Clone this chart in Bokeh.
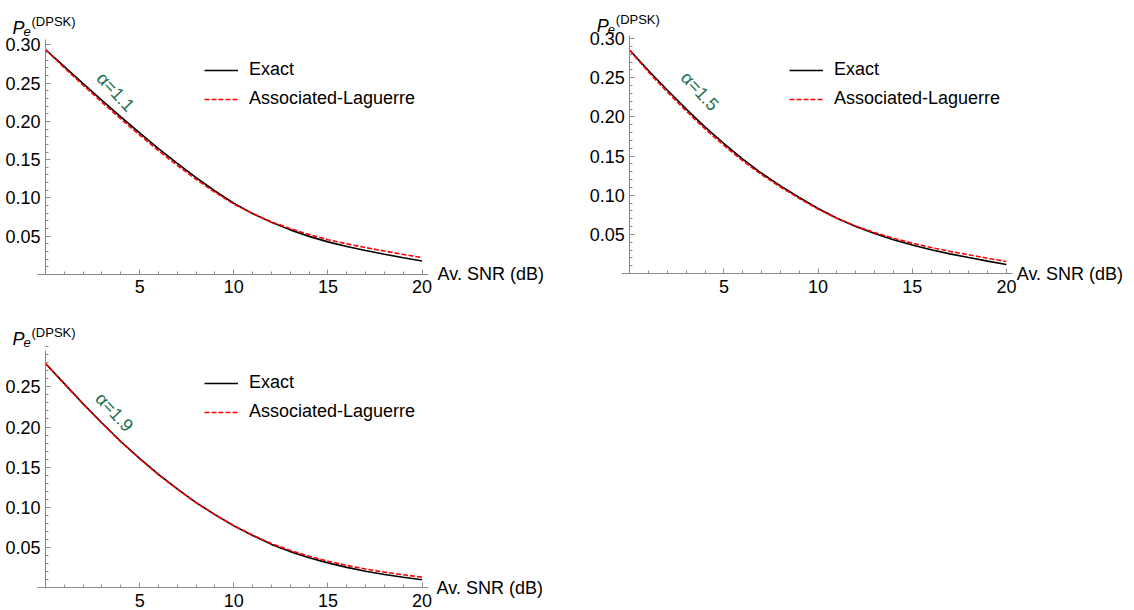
from bokeh.plotting import figure
from bokeh.models import (FixedTicker, NumeralTickFormatter, Label, Legend,
                          LegendItem, Range1d)
from bokeh.layouts import column, row
from bokeh.embed import file_html
from bokeh.resources import INLINE

# ---------------- data ----------------
snr_db = [0, 1, 2, 3, 4, 5, 6, 7, 8, 9, 10, 11, 12, 13, 14, 15, 16, 17, 18, 19, 20]

exact_a11 = [0.294, 0.2715, 0.2495, 0.2275, 0.206, 0.185, 0.1645, 0.145, 0.1265, 0.109, 0.093,
             0.0795, 0.068, 0.0582, 0.0497, 0.0425, 0.0365, 0.0312, 0.0264, 0.0218, 0.0175]
lag_a11 = [0.294, 0.270, 0.2473, 0.225, 0.2033, 0.1822, 0.1617, 0.1424, 0.1243, 0.1073, 0.092,
           0.0795, 0.0688, 0.0598, 0.052, 0.0454, 0.0399, 0.035, 0.0305, 0.0261, 0.0219]

exact_a15 = [0.285, 0.259, 0.234, 0.210, 0.187, 0.166, 0.146, 0.128, 0.112, 0.097, 0.083,
             0.0705, 0.060, 0.051, 0.0432, 0.0364, 0.0304, 0.0251, 0.0204, 0.0158, 0.0115]
lag_a15 = [0.285, 0.257, 0.2315, 0.2075, 0.1845, 0.1635, 0.1438, 0.1262, 0.1105, 0.0958, 0.0822,
           0.0705, 0.0606, 0.0522, 0.045, 0.0387, 0.0332, 0.0283, 0.0239, 0.0195, 0.0153]

exact_a19 = [0.279, 0.254, 0.229, 0.205, 0.182, 0.161, 0.141, 0.123, 0.106, 0.091, 0.077,
             0.065, 0.054, 0.045, 0.0375, 0.031, 0.0254, 0.0206, 0.0166, 0.0131, 0.0100]
lag_a19 = [0.279, 0.2535, 0.2285, 0.2045, 0.1815, 0.1605, 0.1405, 0.1226, 0.1058, 0.0909, 0.0772,
           0.0655, 0.055, 0.0465, 0.0393, 0.0331, 0.0278, 0.0233, 0.0195, 0.0162, 0.0132]

x_ticks = [5, 10, 15, 20]
y_ticks_top = [0.05, 0.10, 0.15, 0.20, 0.25, 0.30]
y_ticks_bottom = [0.05, 0.10, 0.15, 0.20, 0.25]
series_labels = ["Exact", "Associated-Laguerre"]
alpha_labels = ["\u03b1=1.1", "\u03b1=1.5", "\u03b1=1.9"]
x_title = "Av. SNR (dB)"

FONT = "Liberation Sans"
AXIS_GRAY = "#8c8c8c"
GREEN = "#1a7050"
PX_PER_DB = 18.83


def make_panel(ex, lag, alpha_txt, w, h, ox, oy, py, ytop, yticks,
               leg_loc, alpha_xy, snr_x, pe_px):
    """ox, oy: pixel position of the origin (0 dB, 0) inside the figure (oy from top);
    py: pixels per unit of P_e; ytop: top end of the y axis."""
    x_range = Range1d(-ox / PX_PER_DB, (w - ox) / PX_PER_DB)
    y_range = Range1d(-(h - oy) / py, oy / py)
    p = figure(width=w, height=h, x_range=x_range, y_range=y_range,
               output_backend="svg", toolbar_location=None, min_border=0)
    p.outline_line_color = None
    p.grid.visible = False
    p.background_fill_color = "white"
    p.border_fill_color = "white"

    for ax in (p.xaxis[0], p.yaxis[0]):
        ax.fixed_location = 0
        ax.axis_line_color = AXIS_GRAY
        ax.major_tick_line_color = AXIS_GRAY
        ax.minor_tick_line_color = AXIS_GRAY
        ax.major_tick_in = 5
        ax.major_tick_out = 0
        ax.minor_tick_in = 3
        ax.minor_tick_out = 0
        ax.major_label_text_font = FONT
        ax.major_label_text_font_size = "18px"
        ax.major_label_text_color = "black"

    p.xaxis[0].ticker = FixedTicker(ticks=x_ticks, minor_ticks=list(range(1, 21)))
    p.xaxis[0].bounds = (-0.43, 20.35)
    p.xaxis[0].major_label_standoff = 6
    p.yaxis[0].ticker = FixedTicker(ticks=yticks,
                                    minor_ticks=[k / 100 for k in range(1, 31)])
    p.yaxis[0].bounds = (0, ytop)
    p.yaxis[0].formatter = NumeralTickFormatter(format="0.00")
    p.yaxis[0].major_label_standoff = 5

    r1 = p.line(snr_db, ex, line_color="black", line_width=1.6)
    r2 = p.line(snr_db, lag, line_color="#ff0000", line_width=1.6, line_dash="5 2")

    legend = Legend(items=[LegendItem(label=series_labels[0], renderers=[r1]),
                           LegendItem(label=series_labels[1], renderers=[r2])],
                    location=leg_loc, orientation="vertical",
                    glyph_width=34, glyph_height=20, label_height=20,
                    label_standoff=11, spacing=8, padding=0, margin=0,
                    border_line_color=None, background_fill_alpha=0,
                    label_text_font=FONT, label_text_font_size="18px",
                    label_text_color="black", label_text_baseline="middle")
    p.add_layout(legend)

    p.add_layout(Label(x=alpha_xy[0], y=alpha_xy[1], text=alpha_txt, angle=-0.82,
                       text_align="center", text_baseline="middle",
                       text_color=GREEN, text_font=FONT, text_font_size="18px"))

    p.add_layout(Label(x=snr_x, y=0, text=x_title, text_align="left",
                       text_baseline="middle", text_color="black",
                       text_font=FONT, text_font_size="18px"))

    # P_e^(DPSK) label at the top of the y axis (pixel baselines -> data units)
    def yb(px):
        return (oy - px) / py
    p.add_layout(Label(x=-33 / PX_PER_DB, y=yb(pe_px), text="P", text_font_style="italic",
                       text_align="left", text_baseline="alphabetic",
                       text_font=FONT, text_font_size="18px", text_color="black"))
    p.add_layout(Label(x=-22 / PX_PER_DB, y=yb(pe_px + 4), text="e", text_font_style="italic",
                       text_align="left", text_baseline="alphabetic",
                       text_font=FONT, text_font_size="13px", text_color="black"))
    p.add_layout(Label(x=-14 / PX_PER_DB, y=yb(pe_px - 6), text="(DPSK)",
                       text_align="left", text_baseline="alphabetic",
                       text_font=FONT, text_font_size="13px", text_color="black"))
    return p


p1 = make_panel(exact_a11, lag_a11, alpha_labels[0], 560, 299, 45, 273.9, 765, 0.307,
                y_ticks_top, (204, 190), (3.72, 0.2385), 20.82, 27)
p2 = make_panel(exact_a15, lag_a15, alpha_labels[1], 574, 299, 69.3, 273, 783, 0.304,
                y_ticks_top, (229, 190), (3.72, 0.2327), 20.55, 25)
p3 = make_panel(exact_a19, lag_a19, alpha_labels[2], 560, 311, 45, 288.3, 804, 0.295,
                y_ticks_bottom, (204, 188), (3.66, 0.2184), 20.77, 39)

layout = column(row(p1, p2, spacing=0), p3, spacing=0)

open("out.html", "w").write(file_html(layout, INLINE))
